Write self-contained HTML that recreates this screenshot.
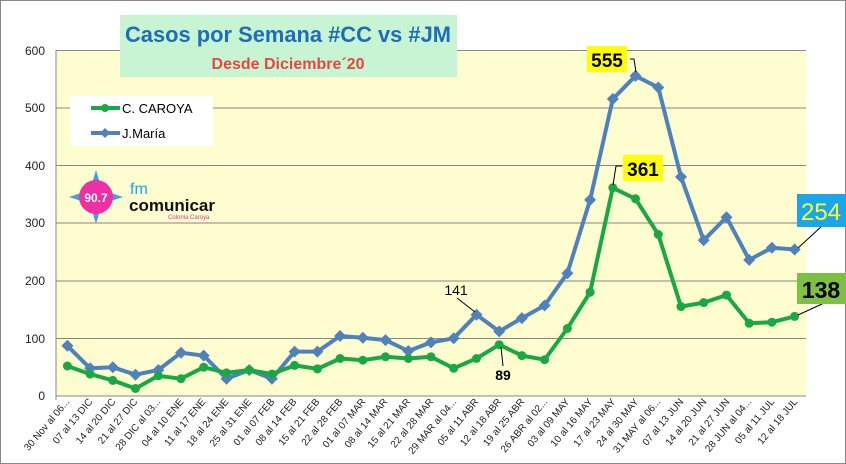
<!DOCTYPE html>
<html><head><meta charset="utf-8"><style>
body{margin:0;background:#fff}
svg{display:block;font-family:"Liberation Sans",sans-serif}
</style></head><body>
<svg width="846" height="464" viewBox="0 0 846 464">
<rect x="0.5" y="0.5" width="845" height="463" fill="#fff" stroke="#888"/>
<rect x="56" y="50" width="750" height="346" fill="#fdfdcf"/>
<g stroke="#888" stroke-width="1">
<line x1="56" x2="806" y1="50.5" y2="50.5"/><line x1="56" x2="806" y1="108" y2="108"/><line x1="56" x2="806" y1="165.5" y2="165.5"/><line x1="56" x2="806" y1="223" y2="223"/><line x1="56" x2="806" y1="281" y2="281"/><line x1="56" x2="806" y1="338.5" y2="338.5"/><line x1="56" x2="806" y1="396" y2="396"/>
<line x1="56" x2="56" y1="50" y2="400"/>
</g>
<g font-size="12" fill="#222" text-anchor="end">
<text x="45" y="55">600</text><text x="45" y="112">500</text><text x="45" y="170">400</text><text x="45" y="227">300</text><text x="45" y="285">200</text><text x="45" y="343">100</text><text x="45" y="400">0</text>
</g>
<g font-size="10" fill="#222" text-anchor="end">
<text transform="translate(70,402) rotate(-50)">30 Nov al 06...</text>
<text transform="translate(93,402) rotate(-50)">07 al 13 DIC</text>
<text transform="translate(116,402) rotate(-50)">14 al 20 DIC</text>
<text transform="translate(138,402) rotate(-50)">21 al 27 DIC</text>
<text transform="translate(161,402) rotate(-50)">28 DIC al 03...</text>
<text transform="translate(184,402) rotate(-50)">04 al 10 ENE</text>
<text transform="translate(206,402) rotate(-50)">11 al 17 ENE</text>
<text transform="translate(229,402) rotate(-50)">18 al 24 ENE</text>
<text transform="translate(252,402) rotate(-50)">25 al 31 ENE</text>
<text transform="translate(275,402) rotate(-50)">01 al 07 FEB</text>
<text transform="translate(297,402) rotate(-50)">08 al 14 FEB</text>
<text transform="translate(320,402) rotate(-50)">15 al 21 FEB</text>
<text transform="translate(343,402) rotate(-50)">22 al 28 FEB</text>
<text transform="translate(366,402) rotate(-50)">01 al 07 MAR</text>
<text transform="translate(388,402) rotate(-50)">08 al 14 MAR</text>
<text transform="translate(411,402) rotate(-50)">15 al 21 MAR</text>
<text transform="translate(434,402) rotate(-50)">22 al 28 MAR</text>
<text transform="translate(457,402) rotate(-50)">29 MAR al 04...</text>
<text transform="translate(479,402) rotate(-50)">05  al 11 ABR</text>
<text transform="translate(502,402) rotate(-50)">12  al 18 ABR</text>
<text transform="translate(525,402) rotate(-50)">19  al 25 ABR</text>
<text transform="translate(548,402) rotate(-50)">26 ABR al 02...</text>
<text transform="translate(570,402) rotate(-50)">03 al 09 MAY</text>
<text transform="translate(593,402) rotate(-50)">10 al 16 MAY</text>
<text transform="translate(616,402) rotate(-50)">17 al 23 MAY</text>
<text transform="translate(639,402) rotate(-50)">24 al 30 MAY</text>
<text transform="translate(661,402) rotate(-50)">31 MAY al 06...</text>
<text transform="translate(684,402) rotate(-50)">07 al 13 JUN</text>
<text transform="translate(707,402) rotate(-50)">14 al 20 JUN</text>
<text transform="translate(730,402) rotate(-50)">21 al 27 JUN</text>
<text transform="translate(752,402) rotate(-50)">28 JUN al 04...</text>
<text transform="translate(775,402) rotate(-50)">05 al 11 JUL</text>
<text transform="translate(798,402) rotate(-50)">12 al 18 JUL</text>
</g>
<polyline fill="none" stroke="#4f81bd" stroke-width="4" stroke-linejoin="round" points="67.4,345.8 90.1,368.3 112.8,367.2 135.5,374.7 158.3,370 181,352.7 203.7,355.6 226.5,378.7 249.2,370 271.9,378.7 294.6,351.6 317.4,351.6 340.1,336 362.8,337.8 385.5,340.1 408.3,351 431,342.4 453.7,338.3 476.5,314.7 499.2,331.4 521.9,318.1 544.6,305.5 567.4,273.2 590.1,199.9 612.8,99 635.5,75.9 658.3,87.5 681,176.9 703.7,240.3 726.5,217.2 749.2,259.9 771.9,247.8 794.6,249.5"/>
<g fill="#4f81bd">
<path d="M67.4,339.8l6,6-6,6-6-6z M90.1,362.3l6,6-6,6-6-6z M112.8,361.2l6,6-6,6-6-6z M135.5,368.7l6,6-6,6-6-6z M158.3,364l6,6-6,6-6-6z M181,346.7l6,6-6,6-6-6z M203.7,349.6l6,6-6,6-6-6z M226.5,372.7l6,6-6,6-6-6z M249.2,364l6,6-6,6-6-6z M271.9,372.7l6,6-6,6-6-6z M294.6,345.6l6,6-6,6-6-6z M317.4,345.6l6,6-6,6-6-6z M340.1,330l6,6-6,6-6-6z M362.8,331.8l6,6-6,6-6-6z M385.5,334.1l6,6-6,6-6-6z M408.3,345l6,6-6,6-6-6z M431,336.4l6,6-6,6-6-6z M453.7,332.3l6,6-6,6-6-6z M476.5,308.7l6,6-6,6-6-6z M499.2,325.4l6,6-6,6-6-6z M521.9,312.1l6,6-6,6-6-6z M544.6,299.5l6,6-6,6-6-6z M567.4,267.2l6,6-6,6-6-6z M590.1,193.9l6,6-6,6-6-6z M612.8,93l6,6-6,6-6-6z M635.5,69.9l6,6-6,6-6-6z M658.3,81.5l6,6-6,6-6-6z M681,170.9l6,6-6,6-6-6z M703.7,234.3l6,6-6,6-6-6z M726.5,211.2l6,6-6,6-6-6z M749.2,253.9l6,6-6,6-6-6z M771.9,241.8l6,6-6,6-6-6z M794.6,243.5l6,6-6,6-6-6z"/>
</g>
<polyline fill="none" stroke="#1aa845" stroke-width="4" stroke-linejoin="round" points="67.4,366 90.1,374.1 112.8,380.4 135.5,388.5 158.3,375.8 181,378.7 203.7,367.2 226.5,372.9 249.2,370 271.9,374.1 294.6,365.4 317.4,368.9 340.1,358.5 362.8,360.2 385.5,356.8 408.3,358.5 431,356.8 453.7,368.3 476.5,358.5 499.2,344.7 521.9,355.6 544.6,359.7 567.4,328.5 590.1,292.2 612.8,187.8 635.5,198.8 658.3,234.5 681,306.6 703.7,302.6 726.5,295.1 749.2,323.3 771.9,322.2 794.6,316.4"/>
<g fill="#1aa845">
<circle cx="67.4" cy="366" r="4.5"/><circle cx="90.1" cy="374.1" r="4.5"/><circle cx="112.8" cy="380.4" r="4.5"/><circle cx="135.5" cy="388.5" r="4.5"/><circle cx="158.3" cy="375.8" r="4.5"/><circle cx="181" cy="378.7" r="4.5"/><circle cx="203.7" cy="367.2" r="4.5"/><circle cx="226.5" cy="372.9" r="4.5"/><circle cx="249.2" cy="370" r="4.5"/><circle cx="271.9" cy="374.1" r="4.5"/><circle cx="294.6" cy="365.4" r="4.5"/><circle cx="317.4" cy="368.9" r="4.5"/><circle cx="340.1" cy="358.5" r="4.5"/><circle cx="362.8" cy="360.2" r="4.5"/><circle cx="385.5" cy="356.8" r="4.5"/><circle cx="408.3" cy="358.5" r="4.5"/><circle cx="431" cy="356.8" r="4.5"/><circle cx="453.7" cy="368.3" r="4.5"/><circle cx="476.5" cy="358.5" r="4.5"/><circle cx="499.2" cy="344.7" r="4.5"/><circle cx="521.9" cy="355.6" r="4.5"/><circle cx="544.6" cy="359.7" r="4.5"/><circle cx="567.4" cy="328.5" r="4.5"/><circle cx="590.1" cy="292.2" r="4.5"/><circle cx="612.8" cy="187.8" r="4.5"/><circle cx="635.5" cy="198.8" r="4.5"/><circle cx="658.3" cy="234.5" r="4.5"/><circle cx="681" cy="306.6" r="4.5"/><circle cx="703.7" cy="302.6" r="4.5"/><circle cx="726.5" cy="295.1" r="4.5"/><circle cx="749.2" cy="323.3" r="4.5"/><circle cx="771.9" cy="322.2" r="4.5"/><circle cx="794.6" cy="316.4" r="4.5"/>
</g>
<g stroke="#000" stroke-width="1" fill="none">
<polyline points="630,59 634,59 636,72"/>
<polyline points="622,166 616,166 613,185"/>
<line x1="457" y1="298" x2="475" y2="312"/>
<line x1="501" y1="347" x2="503" y2="366"/>
<line x1="822" y1="226" x2="798" y2="248"/>
<line x1="822" y1="304" x2="798" y2="315"/>
</g>
<rect x="587" y="46" width="40" height="26" fill="#ffff00"/>
<text x="607" y="67" font-size="19" font-weight="bold" text-anchor="middle">555</text>
<rect x="623" y="155" width="40" height="26" fill="#ffff00"/>
<text x="643" y="176" font-size="19" font-weight="bold" text-anchor="middle">361</text>
<text x="456" y="295" font-size="14" text-anchor="middle">141</text>
<text x="503" y="380" font-size="14" font-weight="bold" text-anchor="middle">89</text>
<rect x="797" y="194" width="49" height="33" fill="#1aa6e8"/>
<text x="821" y="220" font-size="24" fill="#ffff33" text-anchor="middle">254</text>
<rect x="797" y="273" width="49" height="31" fill="#7cc142"/>
<text x="821" y="298" font-size="23" font-weight="bold" text-anchor="middle">138</text>
<rect x="120" y="15" width="337" height="62" fill="#c7f5d3"/>
<text x="288" y="42" font-size="22" font-weight="bold" fill="#1f6dba" text-anchor="middle" textLength="326" lengthAdjust="spacingAndGlyphs">Casos por Semana #CC vs #JM</text>
<text x="288" y="69" font-size="16" font-weight="bold" fill="#e84545" text-anchor="middle">Desde Diciembre´20</text>
<rect x="70" y="96" width="143" height="50" fill="#fff"/>
<line x1="91" x2="120" y1="108" y2="108" stroke="#1aa845" stroke-width="4"/><circle cx="105" cy="108" r="4" fill="#1aa845"/>
<text x="122" y="113" font-size="13">C. CAROYA</text>
<line x1="91" x2="120" y1="133" y2="133" stroke="#4f81bd" stroke-width="4"/><path d="M105,128l5,5-5,5-5-5z" fill="#4f81bd"/>
<text x="122" y="138" font-size="13">J.María</text>
<path d="M96,170 L102,190 L123,197 L102,204 L96,224 L90,204 L69,197 L90,190 Z" fill="#4a9ee0"/>
<circle cx="96" cy="197" r="17" fill="#ee2fa5"/>
<text x="96" y="202" font-size="12" font-weight="bold" fill="#fff" text-anchor="middle">90.7</text>
<text x="130" y="194" font-size="16" fill="#1aa6e8">fm</text>
<text x="129" y="211" font-size="17" font-weight="bold" fill="#111">comunicar</text>
<text x="168" y="219" font-size="6" fill="#e23c8a">Colonia Caroya</text>
</svg>
</body></html>
